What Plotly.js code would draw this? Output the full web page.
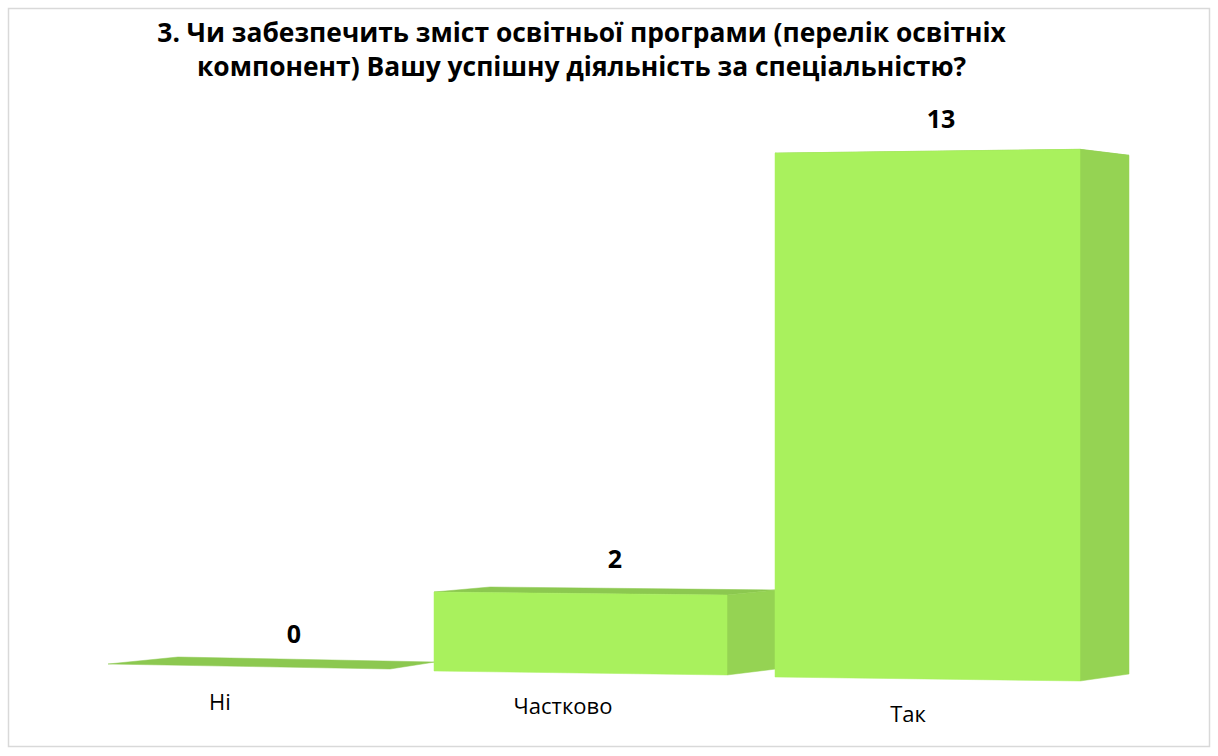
<!DOCTYPE html>
<html><head><meta charset="utf-8">
<script src="https://cdn.plot.ly/plotly-3.0.1.min.js"></script>
<style>html,body{margin:0;padding:0;background:#fff}#c{width:1218px;height:756px}</style></head>
<body><div id="c"></div>
<script>
var categories = ["Ні", "Частково", "Так"];
var values = [0, 2, 13];
var titleText = "3. Чи забезпечить зміст освітньої програми (перелік освітніх<br>компонент) Вашу успішну діяльність за спеціальністю?";

var W = 1218, H = 756, BASE = 665, UNIT = 40.3;
var frontLeft  = [108, 434, 775];
var frontRight = [390, 727, 1080];
var backRight  = [435, 776, 1129];
var backLeft   = [178, 490, 830];
var baseFL = [664, 671, 677];
var baseFR = [669, 675, 681];
var baseBR = [662, 669, 674];
var baseBL = [657, 664, 670];
var riseFL = [40, 39.5, 40.3];
var riseFR = [40, 40, 40.9];
var riseBR = [40, 39.5, 39.9];
var riseBL = [40, 38.5, 39];
var labelY = [637, 562, 121.5];
var catY = [704, 708.5, 716.5];
var catX = [220, 563, 908];
var labelX = [294, 615, 941];

function Y(px){ return (BASE - px) / UNIT; }
function T(base, rise, v){ return Y(base - rise * v); }

var traces = [];
function quad(xs, ys, color){
  traces.push({type:"scatter", mode:"lines", x:xs.concat(xs[0]), y:ys.concat(ys[0]), fill:"toself", fillcolor:color,
    line:{color:color, width:0.5}, hoverinfo:"skip", showlegend:false});
}
values.forEach(function(v,i){
  var tFL=T(baseFL[i],riseFL[i],v), tFR=T(baseFR[i],riseFR[i],v), tBR=T(baseBR[i],riseBR[i],v), tBL=T(baseBL[i],riseBL[i],v);
  quad([frontLeft[i],backLeft[i],backRight[i],frontRight[i]],[tFL,tBL,tBR,tFR],"#8cc850");
  if(v>0){
    quad([frontRight[i],backRight[i],backRight[i],frontRight[i]],[tFR,tBR,Y(baseBR[i]),Y(baseFR[i])],"#95d353");
    quad([frontLeft[i],frontRight[i],frontRight[i],frontLeft[i]],[tFL,tFR,Y(baseFR[i]),Y(baseFL[i])],"#a9f15d");
  }
});
traces.push({type:"scatter", mode:"text", x:labelX, y:labelY.map(Y), text:values.map(String),
  textfont:{family:"Open Sans, sans-serif", size:25, color:"#000", weight:700}, textposition:"middle center", hoverinfo:"skip", showlegend:false, cliponaxis:false});
traces.push({type:"scatter", mode:"text", x:catX, y:catY.map(Y), text:categories,
  textfont:{family:"Open Sans, sans-serif", size:22, color:"#000"}, textposition:"middle center", hoverinfo:"skip", showlegend:false, cliponaxis:false});

Plotly.newPlot("c", traces, {
  width:W, height:H, margin:{l:0,r:0,t:0,b:0}, paper_bgcolor:"#fff", plot_bgcolor:"#fff", showlegend:false,
  title:{text:titleText, font:{family:"Open Sans, sans-serif", size:26.4, color:"#000", weight:700}, x:0.4775, xanchor:"center", y:0.945, yanchor:"middle"},
  xaxis:{range:[0,W], visible:false, fixedrange:true},
  yaxis:{range:[Y(H),Y(0)], visible:false, fixedrange:true},
  shapes:[{type:"rect", xref:"paper", yref:"paper", x0:8.5/W, x1:1209.5/W, y0:1-746.5/H, y1:1-8.5/H, line:{color:"#d9d9d9", width:1.5}, fillcolor:"rgba(0,0,0,0)"}]
}, {displayModeBar:false, staticPlot:true});
</script></body></html>
